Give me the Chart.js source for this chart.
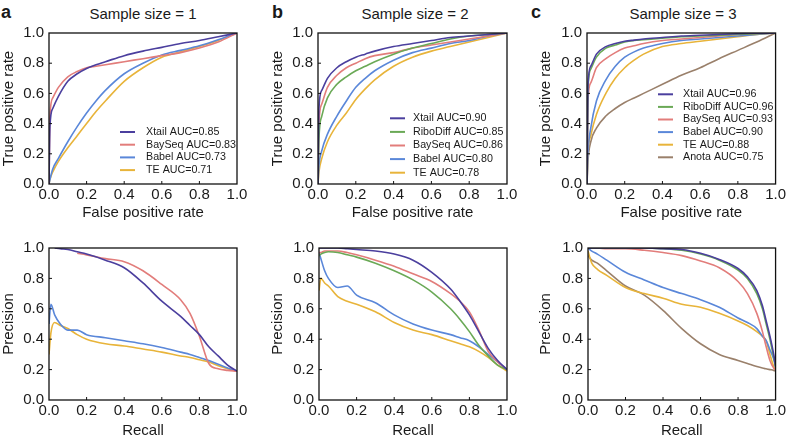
<!DOCTYPE html>
<html>
<head>
<meta charset="utf-8">
<script src="https://cdn.jsdelivr.net/npm/chart.js@4.4.0/dist/chart.umd.min.js"></script>
<style>
  body { margin: 0; background: #fff; width: 788px; height: 440px; position: relative; overflow: hidden;
         font-family: "Liberation Sans", Arial, sans-serif; color: #1a1a1a; }
  .box { position: absolute; }
  .ttl { position: absolute; width: 200px; text-align: center; font-size: 15px; line-height: 16px; top: 6px; }
  .lbl { position: absolute; font-weight: bold; font-size: 18px; line-height: 20px; top: 2px; }
</style>
</head>
<body>
<div class="lbl" style="left:1px">a</div>
<div class="lbl" style="left:272px">b</div>
<div class="lbl" style="left:531px">c</div>
<div class="ttl" style="left:43px">Sample size = 1</div>
<div class="ttl" style="left:315px">Sample size = 2</div>
<div class="ttl" style="left:583px">Sample size = 3</div>

<div class="box" style="left:0;top:0;width:262px;height:222px"><canvas id="rocA"></canvas></div>
<div class="box" style="left:262px;top:0;width:262px;height:222px"><canvas id="rocB"></canvas></div>
<div class="box" style="left:524px;top:0;width:264px;height:222px"><canvas id="rocC"></canvas></div>
<div class="box" style="left:0;top:220px;width:262px;height:220px"><canvas id="prA"></canvas></div>
<div class="box" style="left:262px;top:220px;width:262px;height:220px"><canvas id="prB"></canvas></div>
<div class="box" style="left:524px;top:220px;width:264px;height:220px"><canvas id="prC"></canvas></div>

<script>
// ROC curves: false positive rate grid and true positive rates
var fpr = [0, 0.005, 0.02, 0.05, 0.1, 0.15, 0.2, 0.25, 0.3, 0.4, 0.5, 0.6, 0.7, 0.8, 0.9, 1];

var rocA_xtail  = [0, 0.38, 0.5, 0.58, 0.68, 0.73, 0.765, 0.79, 0.81, 0.85, 0.88, 0.905, 0.93, 0.95, 0.975, 1];
var rocA_bayseq = [0, 0.45, 0.57, 0.64, 0.71, 0.745, 0.77, 0.78, 0.79, 0.81, 0.83, 0.85, 0.87, 0.9, 0.94, 1];
var rocA_babel  = [0, 0.03, 0.1, 0.17, 0.28, 0.38, 0.47, 0.55, 0.62, 0.73, 0.8, 0.855, 0.885, 0.915, 0.955, 1];
var rocA_te     = [0, 0.03, 0.08, 0.15, 0.24, 0.32, 0.4, 0.48, 0.55, 0.68, 0.77, 0.84, 0.875, 0.91, 0.95, 1];

var rocB_xtail    = [0, 0.5, 0.62, 0.7, 0.77, 0.81, 0.84, 0.86, 0.88, 0.91, 0.93, 0.95, 0.97, 0.98, 0.99, 1];
var rocB_ribodiff = [0, 0.3, 0.45, 0.57, 0.66, 0.71, 0.75, 0.78, 0.81, 0.86, 0.9, 0.93, 0.96, 0.98, 0.99, 1];
var rocB_bayseq   = [0, 0.4, 0.53, 0.64, 0.72, 0.77, 0.8, 0.83, 0.85, 0.87, 0.9, 0.92, 0.94, 0.96, 0.98, 1];
var rocB_babel    = [0, 0.12, 0.22, 0.33, 0.45, 0.55, 0.64, 0.7, 0.75, 0.82, 0.87, 0.9, 0.93, 0.95, 0.98, 1];
var rocB_te       = [0, 0.08, 0.17, 0.28, 0.39, 0.47, 0.56, 0.63, 0.69, 0.78, 0.84, 0.88, 0.91, 0.94, 0.97, 1];

var rocC_xtail    = [0, 0.65, 0.78, 0.86, 0.91, 0.93, 0.945, 0.953, 0.96, 0.97, 0.98, 0.985, 0.99, 0.995, 0.998, 1];
var rocC_ribodiff = [0, 0.62, 0.76, 0.84, 0.9, 0.92, 0.94, 0.95, 0.955, 0.965, 0.975, 0.98, 0.985, 0.99, 0.995, 1];
var rocC_bayseq   = [0, 0.55, 0.67, 0.77, 0.83, 0.87, 0.9, 0.915, 0.93, 0.95, 0.96, 0.97, 0.98, 0.99, 0.995, 1];
var rocC_babel    = [0, 0.2, 0.37, 0.55, 0.69, 0.78, 0.84, 0.875, 0.9, 0.93, 0.95, 0.96, 0.97, 0.98, 0.99, 1];
var rocC_te       = [0, 0.2, 0.32, 0.46, 0.6, 0.7, 0.77, 0.82, 0.86, 0.91, 0.93, 0.945, 0.96, 0.975, 0.99, 1];
var rocC_anota    = [0, 0.15, 0.28, 0.37, 0.45, 0.5, 0.54, 0.57, 0.6, 0.66, 0.72, 0.77, 0.83, 0.885, 0.94, 1];

// precision-recall curves
var recallA = [0, 0.01, 0.03, 0.06, 0.1, 0.15, 0.2, 0.3, 0.4, 0.5, 0.6, 0.7, 0.75, 0.8, 0.85, 0.9, 0.95, 1];
var prA_xtail  = [null, null, 1, 0.995, 0.99, 0.975, 0.96, 0.92, 0.87, 0.77, 0.65, 0.55, 0.49, 0.43, 0.35, 0.29, 0.23, 0.19];
var prA_bayseq = [null, null, null, null, null, 0.965, 0.955, 0.93, 0.91, 0.85, 0.76, 0.66, 0.57, 0.42, 0.24, 0.205, 0.195, 0.19];
var prA_babel  = [0.5, 0.63, 0.56, 0.5, 0.46, 0.46, 0.43, 0.41, 0.39, 0.37, 0.345, 0.315, 0.3, 0.28, 0.26, 0.235, 0.21, 0.19];
var prA_te     = [0.3, 0.44, 0.51, 0.49, 0.47, 0.43, 0.4, 0.37, 0.355, 0.335, 0.315, 0.29, 0.28, 0.265, 0.25, 0.225, 0.205, 0.19];

var recallB = [0, 0.01, 0.03, 0.05, 0.1, 0.15, 0.2, 0.3, 0.4, 0.5, 0.6, 0.7, 0.75, 0.8, 0.85, 0.9, 0.95, 1];
var prB_xtail    = [1, 1, 1, 1, 1, 0.995, 0.99, 0.98, 0.96, 0.92, 0.84, 0.73, 0.65, 0.56, 0.45, 0.34, 0.26, 0.2];
var prB_ribodiff = [0.95, 0.96, 0.97, 0.975, 0.97, 0.955, 0.94, 0.9, 0.85, 0.79, 0.71, 0.6, 0.53, 0.45, 0.36, 0.29, 0.23, 0.2];
var prB_bayseq   = [0.97, 0.97, 0.98, 0.98, 0.98, 0.97, 0.955, 0.92, 0.88, 0.83, 0.78, 0.7, 0.65, 0.58, 0.46, 0.32, 0.25, 0.2];
var prB_babel    = [0.97, 0.93, 0.85, 0.8, 0.74, 0.75, 0.69, 0.64, 0.56, 0.5, 0.46, 0.43, 0.41, 0.39, 0.35, 0.3, 0.25, 0.2];
var prB_te       = [0.72, 0.8, 0.77, 0.75, 0.68, 0.65, 0.63, 0.58, 0.51, 0.46, 0.43, 0.39, 0.37, 0.35, 0.32, 0.28, 0.23, 0.19];

var recallC = [0, 0.02, 0.05, 0.1, 0.2, 0.3, 0.4, 0.5, 0.6, 0.7, 0.8, 0.85, 0.9, 0.93, 0.95, 0.97, 0.99, 1];
var prC_xtail    = [1, 1, 1, 1, 1, 1, 0.995, 0.99, 0.965, 0.925, 0.865, 0.81, 0.72, 0.62, 0.52, 0.42, 0.3, 0.22];
var prC_ribodiff = [1, 1, 1, 1, 1, 1, 0.995, 0.985, 0.96, 0.92, 0.855, 0.8, 0.7, 0.6, 0.5, 0.4, 0.28, 0.22];
var prC_bayseq   = [1, 1, 1, 0.995, 0.995, 0.985, 0.97, 0.95, 0.915, 0.87, 0.78, 0.7, 0.57, 0.45, 0.35, 0.26, 0.21, 0.2];
var prC_babel    = [1, 0.98, 0.96, 0.92, 0.84, 0.79, 0.74, 0.7, 0.66, 0.61, 0.54, 0.51, 0.47, 0.42, 0.39, 0.33, 0.27, 0.22];
var prC_te       = [0.98, 0.9, 0.86, 0.82, 0.74, 0.7, 0.67, 0.63, 0.61, 0.57, 0.52, 0.49, 0.45, 0.42, 0.39, 0.3, 0.22, 0.2];
var prC_anota    = [0.95, 0.92, 0.9, 0.85, 0.75, 0.69, 0.59, 0.47, 0.37, 0.3, 0.26, 0.24, 0.22, 0.21, 0.205, 0.2, 0.195, 0.19];

var tickVals = [0, 0.2, 0.4, 0.6, 0.8, 1.0];

var cXtail = '#4b3f9e', cRibo = '#6aa956', cBay = '#e27d7b', cBabel = '#5a87d9', cTE = '#e8b43a', cAnota = '#9a806b';

Chart.defaults.font.family = '"Liberation Sans", Arial, sans-serif';
Chart.defaults.font.size = 15;
Chart.defaults.color = '#1a1a1a';

// frame, inward ticks, and the small legend inside the plot
var deco = {
  id: 'deco',
  afterDatasetsDraw: function (chart, args, o) {
    var ctx = chart.ctx, a = chart.chartArea, sx = chart.scales.x, sy = chart.scales.y;
    ctx.save();
    ctx.strokeStyle = '#111';
    ctx.lineWidth = 1.3;
    ctx.strokeRect(a.left, a.top, a.right - a.left, a.bottom - a.top);
    ctx.lineWidth = 1;
    tickVals.slice(1, 5).forEach(function (v) {
      var px = sx.getPixelForValue(v), py = sy.getPixelForValue(v);
      ctx.beginPath();
      ctx.moveTo(px, a.bottom); ctx.lineTo(px, a.bottom - 3);
      ctx.moveTo(a.left, py); ctx.lineTo(a.left + 3, py);
      ctx.stroke();
    });
    if (o.legend) {
      ctx.font = '10.7px "Liberation Sans", Arial, sans-serif';
      ctx.textBaseline = 'middle';
      ctx.textAlign = 'left';
      chart.data.datasets.forEach(function (ds, i) {
        var y = o.legend.y + i * o.legend.dy;
        ctx.strokeStyle = ds.borderColor;
        ctx.lineWidth = 2;
        ctx.beginPath();
        ctx.moveTo(o.legend.x, y); ctx.lineTo(o.legend.x + 15, y);
        ctx.stroke();
        ctx.fillStyle = '#1a1a1a';
        ctx.fillText(ds.label, o.legend.tx, y);
      });
    }
    ctx.restore();
  }
};

function panel(id, xs, series, cfg) {
  var datasets = series.map(function (s) {
    return {
      label: s[0],
      data: xs.map(function (x, i) { return { x: x, y: s[1][i] }; }),
      borderColor: s[2],
      borderWidth: 1.6,
      pointRadius: 0,
      fill: false,
      cubicInterpolationMode: 'monotone'
    };
  });
  new Chart(document.getElementById(id), {
    type: 'line',
    data: { datasets: datasets },
    plugins: [deco],
    options: {
      responsive: true,
      maintainAspectRatio: false,
      animation: false,
      layout: { padding: { left: 0, right: cfg.right, top: cfg.top, bottom: 0 } },
      plugins: {
        legend: { display: false },
        tooltip: { enabled: false },
        deco: { legend: cfg.legend }
      },
      scales: {
        x: {
          type: 'linear', min: 0, max: 1,
          afterBuildTicks: function (s) { s.ticks = tickVals.map(function (v) { return { value: v }; }); },
          ticks: { padding: 2, maxRotation: 0, callback: function (v) { return v.toFixed(1); } },
          grid: { display: false, drawTicks: false },
          border: { display: false },
          title: { display: true, text: cfg.xTitle, padding: { top: 0, bottom: 0 } },
          afterFit: function (s) { s.height = cfg.xH; }
        },
        y: {
          type: 'linear', min: 0, max: 1,
          afterBuildTicks: function (s) { s.ticks = tickVals.map(function (v) { return { value: v }; }); },
          ticks: { padding: 5, callback: function (v) { return v.toFixed(1); } },
          grid: { display: false, drawTicks: false },
          border: { display: false },
          title: { display: true, text: cfg.yTitle, padding: { top: cfg.yPad, bottom: 0 } },
          afterFit: function (s) { s.width = cfg.left; }
        }
      }
    }
  });
}

panel('rocA', fpr, [
  ['Xtail AUC=0.85', rocA_xtail, cXtail],
  ['BaySeq AUC=0.83', rocA_bayseq, cBay],
  ['Babel AUC=0.73', rocA_babel, cBabel],
  ['TE AUC=0.71', rocA_te, cTE]
], { left: 49, right: 25, top: 33, xH: 38, yPad: 0, xTitle: 'False positive rate', yTitle: 'True positive rate',
     legend: { x: 120, tx: 146, y: 132, dy: 12.7 } });

panel('rocB', fpr, [
  ['Xtail AUC=0.90', rocB_xtail, cXtail],
  ['RiboDiff AUC=0.85', rocB_ribodiff, cRibo],
  ['BaySeq AUC=0.86', rocB_bayseq, cBay],
  ['Babel AUC=0.80', rocB_babel, cBabel],
  ['TE AUC=0.78', rocB_te, cTE]
], { left: 56, right: 17, top: 33, xH: 38, yPad: 7, xTitle: 'False positive rate', yTitle: 'True positive rate',
     legend: { x: 128, tx: 151, y: 118.3, dy: 13.6 } });

panel('rocC', fpr, [
  ['Xtail AUC=0.96', rocC_xtail, cXtail],
  ['RiboDiff AUC=0.96', rocC_ribodiff, cRibo],
  ['BaySeq AUC=0.93', rocC_bayseq, cBay],
  ['Babel AUC=0.90', rocC_babel, cBabel],
  ['TE AUC=0.88', rocC_te, cTE],
  ['Anota AUC=0.75', rocC_anota, cAnota]
], { left: 63, right: 10, top: 33, xH: 38, yPad: 13, xTitle: 'False positive rate', yTitle: 'True positive rate',
     legend: { x: 134, tx: 159, y: 94.3, dy: 12.6 } });

panel('prA', recallA, [
  ['Xtail', prA_xtail, cXtail],
  ['BaySeq', prA_bayseq, cBay],
  ['Babel', prA_babel, cBabel],
  ['TE', prA_te, cTE]
], { left: 49, right: 25, top: 28, xH: 40, yPad: 0, xTitle: 'Recall', yTitle: 'Precision', legend: null });

panel('prB', recallB, [
  ['Xtail', prB_xtail, cXtail],
  ['RiboDiff', prB_ribodiff, cRibo],
  ['BaySeq', prB_bayseq, cBay],
  ['Babel', prB_babel, cBabel],
  ['TE', prB_te, cTE]
], { left: 57, right: 17, top: 28, xH: 40, yPad: 7, xTitle: 'Recall', yTitle: 'Precision', legend: null });

panel('prC', recallC, [
  ['Xtail', prC_xtail, cXtail],
  ['RiboDiff', prC_ribodiff, cRibo],
  ['BaySeq', prC_bayseq, cBay],
  ['Babel', prC_babel, cBabel],
  ['TE', prC_te, cTE],
  ['Anota', prC_anota, cAnota]
], { left: 64, right: 10, top: 28, xH: 40, yPad: 13, xTitle: 'Recall', yTitle: 'Precision', legend: null });
</script>
</body>
</html>
